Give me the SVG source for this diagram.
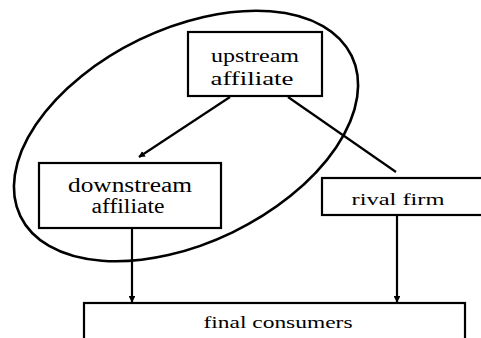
<svg xmlns="http://www.w3.org/2000/svg" width="481" height="338" viewBox="0 0 481 338">
<style>
.box{fill:#fff;stroke:#000;stroke-width:2.2}
.t{font-family:"Liberation Serif","DejaVu Serif","Times New Roman",serif;fill:#000;text-anchor:middle}
.c{stroke:#000;stroke-width:2.2;fill:none}
</style>
<defs>
<marker id="ah" viewBox="0 0 10 10" refX="9" refY="5" markerWidth="3" markerHeight="3" orient="auto" markerUnits="strokeWidth">
<path d="M0,0 L10,5 L0,10 z" fill="#000"/>
</marker>
</defs>
<rect width="481" height="338" fill="#fff"/>
<g id="group-ellipse">
<ellipse cx="186" cy="136" rx="184" ry="107" transform="rotate(-25.8 186 136)" fill="none" stroke="#000" stroke-width="2.6"/>
</g>
<g id="upstream">
<rect class="box" x="188" y="32" width="134" height="64"/>
<text class="t" x="255" y="62" font-size="18" textLength="88" lengthAdjust="spacingAndGlyphs">upstream</text>
<text class="t" x="252" y="85" font-size="18" textLength="83" lengthAdjust="spacingAndGlyphs">affiliate</text>
</g>
<g id="downstream">
<rect class="box" x="39" y="163" width="182" height="65"/>
<text class="t" x="130" y="192" font-size="20" textLength="124" lengthAdjust="spacingAndGlyphs">downstream</text>
<text class="t" x="128" y="213" font-size="20" textLength="73" lengthAdjust="spacingAndGlyphs">affiliate</text>
</g>
<g id="rival">
<rect class="box" x="322" y="178" width="170" height="37"/>
<text class="t" x="398" y="205" font-size="17" textLength="93" lengthAdjust="spacingAndGlyphs">rival firm</text>
</g>
<g id="final">
<rect class="box" x="84" y="303" width="381" height="50"/>
<text class="t" x="278" y="328" font-size="17" textLength="149" lengthAdjust="spacingAndGlyphs">final consumers</text>
</g>
<g id="connectors">
<line class="c" x1="230" y1="97" x2="139" y2="157" marker-end="url(#ah)"/>
<line class="c" x1="288" y1="97" x2="396" y2="172"/>
<line class="c" x1="132" y1="228" x2="132" y2="302" marker-end="url(#ah)"/>
<line class="c" x1="397" y1="215" x2="397" y2="302" marker-end="url(#ah)"/>
</g>
</svg>
